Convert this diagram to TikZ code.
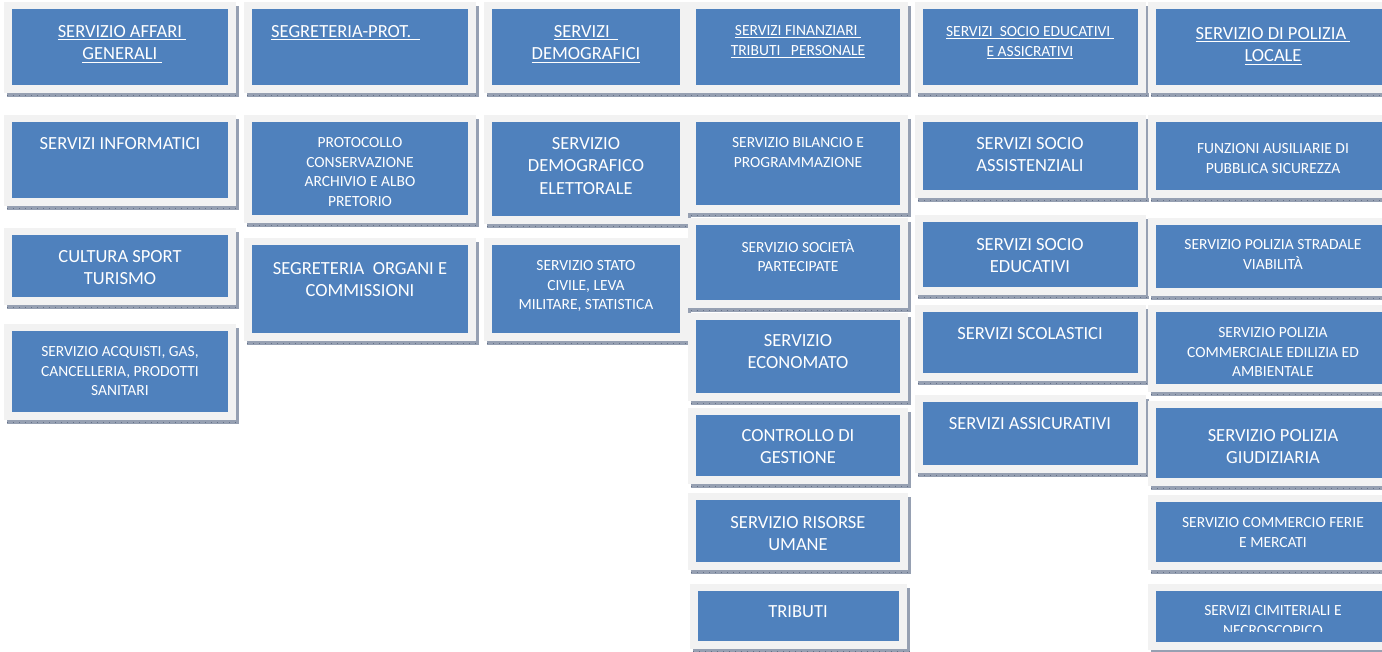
\documentclass[tikz,border=0pt]{standalone}
\usepackage{fontspec}
\setmainfont{Carlito}
\definecolor{bluec}{RGB}{79,129,189}
\definecolor{outerc}{RGB}{242,242,242}
\definecolor{shadowc}{RGB}{150,160,178}
\definecolor{tickc}{RGB}{100,112,135}
\newcommand\myul[1]{\setbox0\hbox{#1}\rlap{\rule[-2.8pt]{\wd0}{1.1pt}}\box0}
\newcommand\svbox[5]{%
  \fill[shadowc] ({#2-5},{#3-3}) rectangle ({#4+11},{#5+12});
  \draw[tickc,line width=0.5pt,dash pattern=on 1pt off 5pt] ({#2-5},{#5+10}) -- ({#4+11},{#5+10});
  \fill[outerc] ({#2-8},{#3-7}) rectangle ({#4+8},{#5+8});
  \fill[bluec] (#2,#3) rectangle (#4,#5);
  \coordinate (#1) at ({(#2+#4)/2},#3);
}
\tikzset{
  big/.style={font=\fontsize{18.5}{22.5}\selectfont, text=white, align=center, inner sep=0pt, anchor=north, execute at begin node=\strut},
  small/.style={font=\fontsize{15.5}{19.5}\selectfont, text=white, align=center, inner sep=0pt, anchor=north, execute at begin node=\strut},
  ml/.style={yshift=-4pt}
}
\begin{document}
\begin{tikzpicture}[x=1pt,y=-1pt]
\useasboundingbox (0,0) rectangle (1382,651);
\clip (0,0) rectangle (1382,651);
\fill[white] (0,0) rectangle (1382,651);
% column 1
\svbox{A1}{12}{9}{228}{85}
\svbox{A2}{12}{122}{228}{198}
\svbox{A3}{12}{235}{228}{297}
\svbox{A4}{12}{331}{228}{412}
% column 2
\svbox{B1}{252}{9}{468}{85}
\svbox{B2}{252}{122}{468}{215}
\svbox{B3}{252}{245}{468}{333}
% column 3
\svbox{C1}{492}{9}{680}{85}
\svbox{C2}{492}{122}{680}{216}
\svbox{C3}{492}{245}{680}{333}
% column 4
\svbox{D1}{696}{9}{900}{85}
\svbox{D2}{696}{122}{900}{205}
\svbox{D3}{696}{225}{900}{300}
\svbox{D4}{696}{320}{900}{393}
\svbox{D5}{696}{415}{900}{476}
\svbox{D6}{696}{500}{900}{562}
\svbox{D7}{698}{591}{899}{641}
% column 5
\svbox{E1}{923}{9}{1138}{85}
\svbox{E2}{923}{122}{1138}{190}
\svbox{E3}{923}{222}{1138}{287}
\svbox{E4}{923}{312}{1138}{373}
\svbox{E5}{923}{402}{1138}{465}
% column 6
\svbox{F1}{1156}{9}{1390}{85}
\svbox{F2}{1156}{122}{1390}{190}
\svbox{F3}{1156}{225}{1390}{288}
\svbox{F4}{1156}{312}{1390}{384}
\svbox{F5}{1156}{408}{1390}{478}
\svbox{F6}{1156}{502}{1390}{562}
\svbox{F7}{1156}{591}{1390}{642}
% texts column 1
\node[big,ml] (tA1) at (122,21.25) {\myul{SERVIZIO AFFARI\ }\\\myul{GENERALI\ }};
\node[big] (tA2) at (120,133.25) {SERVIZI INFORMATICI};
\node[big,ml] (tA3) at (120,246.25) {CULTURA SPORT\\TURISMO};
\node[small,ml] (tA4) at (120,342.35) {SERVIZIO ACQUISTI, GAS,\\CANCELLERIA, PRODOTTI\\SANITARI};
% column 2
\node[big,anchor=north west] (tB1) at (271,21.25) {\myul{SEGRETERIA-PROT.\ \ }};
\node[small,ml] (tB2) at (360,133.35) {PROTOCOLLO\\CONSERVAZIONE\\ARCHIVIO E ALBO\\PRETORIO};
\node[big,ml] (tB3) at (360,258.25) {SEGRETERIA\ \ ORGANI E\\COMMISSIONI};
% column 3
\node[big,ml] (tC1) at (586,21.25) {\myul{SERVIZI\ \ }\\\myul{DEMOGRAFICI}};
\node[big,ml] (tC2) at (586,133.25) {SERVIZIO\\DEMOGRAFICO\\ELETTORALE};
\node[small,ml] (tC3) at (586,256.35) {SERVIZIO STATO\\CIVILE, LEVA\\MILITARE, STATISTICA};
% column 4
\node[small,ml] (tD1) at (798,21.35) {\myul{SERVIZI FINANZIARI\ }\\\myul{TRIBUTI\ \ \ PERSONALE}};
\node[small,ml] (tD2) at (798,133.35) {SERVIZIO BILANCIO E\\PROGRAMMAZIONE};
\node[small,ml] (tD3) at (798,235.35) {SERVIZIO SOCIETÀ\\PARTECIPATE};
\node[big,ml] (tD4) at (798,330.25) {SERVIZIO\\ECONOMATO};
\node[big,ml] (tD5) at (798,425.25) {CONTROLLO DI\\GESTIONE};
\node[big,ml] (tD6) at (798,512.25) {SERVIZIO RISORSE\\UMANE};
\node[big] (tD7) at (798,601.25) {TRIBUTI};
% column 5
\node[small,ml] (tE1) at (1030,22.35) {\myul{SERVIZI\ \ SOCIO EDUCATIVI\ }\\\myul{E ASSICRATIVI}};
\node[big,ml] (tE2) at (1030,133.25) {SERVIZI SOCIO\\ASSISTENZIALI};
\node[big,ml] (tE3) at (1030,234.25) {SERVIZI SOCIO\\EDUCATIVI};
\node[big] (tE4) at (1030,323.25) {SERVIZI SCOLASTICI};
\node[big] (tE5) at (1030,413.25) {SERVIZI ASSICURATIVI};
% column 6
\node[big,ml] (tF1) at (1273,23.25) {\myul{SERVIZIO DI POLIZIA\ }\\\myul{LOCALE}};
\node[small,ml] (tF2) at (1273,139.35) {FUNZIONI AUSILIARIE DI\\PUBBLICA SICUREZZA};
\node[small,ml] (tF3) at (1273,235.35) {SERVIZIO POLIZIA STRADALE\\VIABILITÀ};
\node[small,ml] (tF4) at (1273,323.35) {SERVIZIO POLIZIA\\COMMERCIALE EDILIZIA ED\\AMBIENTALE};
\node[big,ml] (tF5) at (1273,425.25) {SERVIZIO POLIZIA\\GIUDIZIARIA};
\node[small,ml] (tF6) at (1273,513.35) {SERVIZIO COMMERCIO FERIE\\E MERCATI};
\begin{scope}
\clip (1156,591) rectangle (1390,631);
\node[small,ml] (tF7) at (1273,601.35) {SERVIZI CIMITERIALI E\\NECROSCOPICO};
\end{scope}
\end{tikzpicture}
\end{document}
